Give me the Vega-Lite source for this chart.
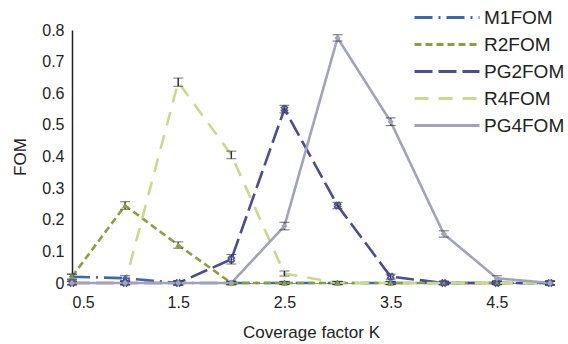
{
  "$schema": "https://vega.github.io/schema/vega-lite/v6.json",
  "width": 478,
  "height": 253,
  "autosize": {"type": "none"},
  "padding": {"left": 72, "top": 30, "right": 18, "bottom": 61},
  "background": "white",
  "config": {
    "font": "Liberation Sans",
    "view": {"stroke": null},
    "axis": {"labelFont": "Liberation Sans", "titleFont": "Liberation Sans", "labelFontSize": 16, "titleFontSize": 17, "labelColor": "#222", "titleColor": "#222", "titleFontWeight": "normal", "grid": false, "ticks": false}
  },
  "data": {"values": [
    {"s":"M1FOM","k":0.5,"v":0.02,"e":0.008},{"s":"M1FOM","k":1,"v":0.015,"e":0.008},{"s":"M1FOM","k":1.5,"v":0,"e":0.006},{"s":"M1FOM","k":2,"v":0,"e":0.005},{"s":"M1FOM","k":2.5,"v":0,"e":0.005},{"s":"M1FOM","k":3,"v":0,"e":0.005},{"s":"M1FOM","k":3.5,"v":0,"e":0.005},{"s":"M1FOM","k":4,"v":0,"e":0.005},{"s":"M1FOM","k":4.5,"v":0,"e":0.005},{"s":"M1FOM","k":5,"v":0,"e":0.005},
    {"s":"R2FOM","k":0.5,"v":0.02,"e":0.008},{"s":"R2FOM","k":1,"v":0.245,"e":0.012},{"s":"R2FOM","k":1.5,"v":0.12,"e":0.01},{"s":"R2FOM","k":2,"v":0,"e":0.005},{"s":"R2FOM","k":2.5,"v":0,"e":0.005},{"s":"R2FOM","k":3,"v":0,"e":0.005},{"s":"R2FOM","k":3.5,"v":0,"e":0.005},{"s":"R2FOM","k":4,"v":0,"e":0.005},{"s":"R2FOM","k":4.5,"v":0,"e":0.005},{"s":"R2FOM","k":5,"v":0,"e":0.005},
    {"s":"PG2FOM","k":0.5,"v":0,"e":0.006},{"s":"PG2FOM","k":1,"v":0,"e":0.006},{"s":"PG2FOM","k":1.5,"v":0,"e":0.008},{"s":"PG2FOM","k":2,"v":0.075,"e":0.015},{"s":"PG2FOM","k":2.5,"v":0.55,"e":0.012},{"s":"PG2FOM","k":3,"v":0.245,"e":0.01},{"s":"PG2FOM","k":3.5,"v":0.02,"e":0.008},{"s":"PG2FOM","k":4,"v":0,"e":0.006},{"s":"PG2FOM","k":4.5,"v":0,"e":0.005},{"s":"PG2FOM","k":5,"v":0,"e":0.005},
    {"s":"R4FOM","k":0.5,"v":0,"e":0.005},{"s":"R4FOM","k":1,"v":0,"e":0.005},{"s":"R4FOM","k":1.5,"v":0.635,"e":0.013},{"s":"R4FOM","k":2,"v":0.405,"e":0.012},{"s":"R4FOM","k":2.5,"v":0.03,"e":0.008},{"s":"R4FOM","k":3,"v":0,"e":0.005},{"s":"R4FOM","k":3.5,"v":0,"e":0.005},{"s":"R4FOM","k":4,"v":0,"e":0.005},{"s":"R4FOM","k":4.5,"v":0,"e":0.005},{"s":"R4FOM","k":5,"v":0,"e":0.005},
    {"s":"PG4FOM","k":0.5,"v":0,"e":0.006},{"s":"PG4FOM","k":1,"v":0,"e":0.006},{"s":"PG4FOM","k":1.5,"v":0,"e":0.006},{"s":"PG4FOM","k":2,"v":0,"e":0.006},{"s":"PG4FOM","k":2.5,"v":0.18,"e":0.012},{"s":"PG4FOM","k":3,"v":0.775,"e":0.01},{"s":"PG4FOM","k":3.5,"v":0.51,"e":0.012},{"s":"PG4FOM","k":4,"v":0.155,"e":0.01},{"s":"PG4FOM","k":4.5,"v":0.015,"e":0.008},{"s":"PG4FOM","k":5,"v":0,"e":0.008}
  ]},
  "encoding": {
    "x": {"field": "k", "type": "quantitative", "scale": {"domain": [0.5, 5], "nice": false, "zero": false},
          "axis": {"title": "Coverage factor K", "values": [0.5, 1.5, 2.5, 3.5, 4.5], "format": ".1f", "domainColor": "#999", "labelPadding": 11, "titlePadding": 14}},
    "y": {"field": "v", "type": "quantitative", "scale": {"domain": [0, 0.8], "nice": false},
          "axis": {"title": "FOM", "values": [0, 0.1, 0.2, 0.3, 0.4, 0.5, 0.6, 0.7, 0.8], "labelExpr": "datum.value == 0 ? '0' : format(datum.value, '.1f')", "domainColor": "#222", "domainWidth": 1.5, "labelPadding": 8, "titlePadding": 12}}
  },
  "layer": [
    {
      "mark": {"type": "line", "strokeWidth": 2.6},
      "encoding": {
        "color": {"field": "s", "type": "nominal",
                  "scale": {"domain": ["M1FOM", "R2FOM", "PG2FOM", "R4FOM", "PG4FOM"], "range": ["#3f67b0", "#8c9f3e", "#4b4c94", "#cbd98f", "#a2a2ba"]},
                  "legend": {"title": null, "orient": "none", "legendX": 341, "legendY": -26, "padding": 0, "clipHeight": 27, "symbolType": "stroke", "symbolSize": 4225, "symbolStrokeWidth": 3, "labelFontSize": 19, "labelColor": "#222", "rowPadding": 0, "labelOffset": 3}},
        "strokeDash": {"field": "s", "type": "nominal",
                  "scale": {"domain": ["M1FOM", "R2FOM", "PG2FOM", "R4FOM", "PG4FOM"], "range": [[18, 6, 2, 6], [7, 4], [18, 6], [14, 10], [1, 0]]},
                  "legend": {"title": null, "orient": "none", "legendX": 341, "legendY": -26, "padding": 0, "clipHeight": 27, "symbolType": "stroke", "symbolSize": 4225, "symbolStrokeWidth": 3, "labelFontSize": 19, "labelColor": "#222", "rowPadding": 0, "labelOffset": 3}}
      }
    },
    {
      "mark": {"type": "errorbar", "ticks": {"size": 10, "color": "#333", "strokeWidth": 1.5}, "rule": {"color": "#333", "strokeWidth": 1.5}},
      "encoding": {
        "yError": {"field": "e"},
        "detail": {"field": "s"}
      }
    },
    {
      "transform": [{"filter": "datum.s == 'M1FOM'"}],
      "mark": {"type": "point", "filled": true, "size": 40, "opacity": 1, "shape": "diamond", "color": "#3f67b0"}
    },
    {
      "transform": [{"filter": "datum.s == 'R2FOM'"}],
      "mark": {"type": "point", "filled": true, "size": 40, "opacity": 1, "shape": "triangle-up", "color": "#8c9f3e"}
    },
    {
      "transform": [{"filter": "datum.s == 'PG2FOM'"}],
      "mark": {"type": "point", "filled": false, "size": 40, "opacity": 1, "shape": "cross", "angle": 45, "strokeWidth": 1.5, "color": "#4b4c94"}
    },
    {
      "transform": [{"filter": "datum.s == 'PG4FOM'"}],
      "mark": {"type": "point", "filled": true, "size": 40, "opacity": 1, "shape": "diamond", "color": "#a2a2ba"}
    }
  ]
}
